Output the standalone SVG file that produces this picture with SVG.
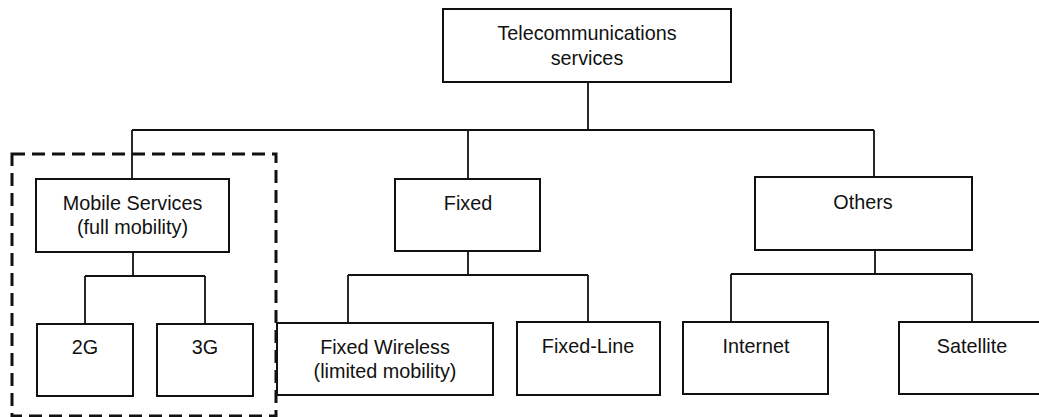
<svg xmlns="http://www.w3.org/2000/svg" width="1039" height="417" viewBox="0 0 1039 417">
<style>
.box{fill:#fff;stroke:#111;stroke-width:2}
.ln{fill:none;stroke:#111;stroke-width:1.8}
.dash{fill:none;stroke:#111;stroke-width:3;stroke-dasharray:13 7}
text{font-family:"Liberation Sans",Arial,sans-serif;font-size:19.8px;fill:#111;text-anchor:middle}
</style>
<rect width="1039" height="417" fill="#fff"/>
<g id="connectors">
<path class="ln" d="M588 82V130M132 130H874M132 130V179M468 130V179M874 130V177"/>
<path class="ln" d="M133 252V276M85 276H205M85 276V324M205 276V324"/>
<path class="ln" d="M468 251V275M348 275H588M348 275V323M588 275V322"/>
<path class="ln" d="M875 250V274M731 274H972M731 274V322M972 274V322"/>
</g>
<g id="group-mobile"><rect class="dash" x="12" y="154" width="264" height="262"/></g>
<g id="n-telecom"><rect class="box" x="443" y="9" width="288" height="73"/><text x="587" y="40">Telecommunications</text><text x="587" y="65">services</text></g>
<g id="n-mobile"><rect class="box" x="36" y="179" width="193" height="73"/><text x="132.5" y="210">Mobile Services</text><text x="132.5" y="234">(full mobility)</text></g>
<g id="n-fixed"><rect class="box" x="395" y="179" width="145" height="72"/><text x="468" y="210">Fixed</text></g>
<g id="n-others"><rect class="box" x="755" y="177" width="217" height="73"/><text x="863" y="209">Others</text></g>
<g id="n-2g"><rect class="box" x="37" y="324" width="96" height="72"/><text x="85" y="354">2G</text></g>
<g id="n-3g"><rect class="box" x="157" y="324" width="96" height="72"/><text x="205" y="354">3G</text></g>
<g id="n-fw"><rect class="box" x="277" y="323" width="216" height="72"/><text x="385" y="354">Fixed Wireless</text><text x="385" y="378">(limited mobility)</text></g>
<g id="n-fl"><rect class="box" x="517" y="322" width="143" height="73"/><text x="588" y="353">Fixed-Line</text></g>
<g id="n-internet"><rect class="box" x="683" y="322" width="145" height="72"/><text x="756" y="353">Internet</text></g>
<g id="n-satellite"><rect class="box" x="899" y="322" width="146" height="72"/><text x="972" y="353">Satellite</text></g>
</svg>
